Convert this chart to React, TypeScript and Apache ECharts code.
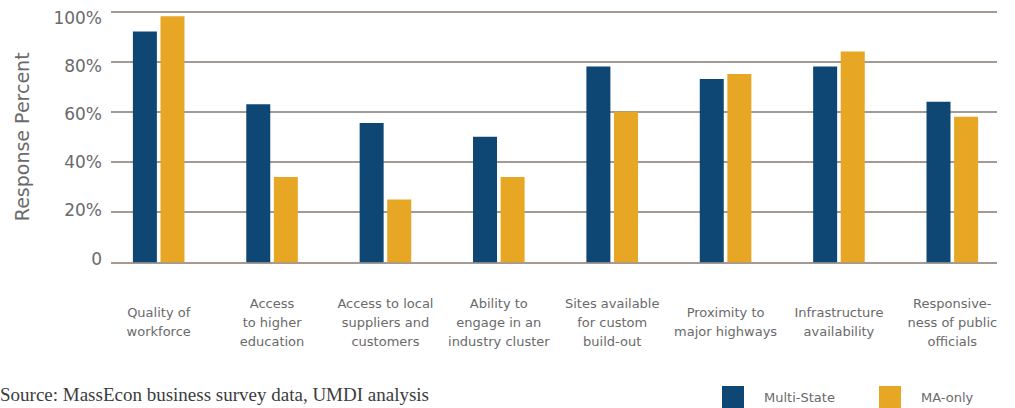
import React, { useEffect, useRef } from "react";
import * as echarts from "echarts";

const categories = [
  "Quality of\nworkforce",
  "Access\nto higher\neducation",
  "Access to local\nsuppliers and\ncustomers",
  "Ability to\nengage in an\nindustry cluster",
  "Sites available\nfor custom\nbuild-out",
  "Proximity to\nmajor highways",
  "Infrastructure\navailability",
  "Responsive-\nness of public\nofficials",
];
const multiState = [92, 63, 55.5, 50, 78, 73, 78, 64];
const maOnly = [98, 34, 25, 34, 60, 75, 84, 58];
const yTicks = [0, 20, 40, 60, 80, 100];

const BLUE = "#0F4774";
const GOLD = "#E7A623";
const TEXT = "#6a6a6a";
const FONT = "DejaVu Sans";

export default function App() {
  const ref = useRef<HTMLDivElement>(null);
  useEffect(() => {
    if (!ref.current) return;
    const chart = echarts.init(ref.current, undefined, { renderer: "svg" });
    const yMax = yTicks[yTicks.length - 1];
    const yInterval = yTicks[1] - yTicks[0];
    chart.setOption({
      animation: false,
      grid: [
        { left: 102, right: 6, top: 11.3, bottom: 145.7 },
        { left: 111, right: 18, top: 11.3, bottom: 145.7 },
        { left: 111, right: 18, top: 17.5, bottom: 149.5 },
      ],
      xAxis: [
        {
          type: "category",
          gridIndex: 0,
          data: categories,
          axisLine: { show: false },
          axisTick: { show: false },
          axisLabel: {
            interval: 0,
            margin: 60,
            verticalAlign: "middle",
            align: "center",
            color: TEXT,
            fontFamily: FONT,
            fontSize: 13,
            lineHeight: 19,
          },
        },
        { type: "value", gridIndex: 1, show: false, min: 0, max: 1 },
        { type: "value", gridIndex: 2, show: false, min: 0, max: 1 },
      ],
      yAxis: [
        {
          type: "value",
          gridIndex: 0,
          min: 0,
          max: yMax,
          interval: yInterval,
          axisLine: { show: false },
          axisTick: { show: false },
          axisLabel: { show: false },
          splitLine: { show: false },
        },
        {
          type: "value",
          gridIndex: 1,
          min: 0,
          max: yMax,
          interval: yInterval,
          axisLine: { show: false },
          axisTick: { show: false },
          axisLabel: { show: false },
          splitLine: { show: true, lineStyle: { color: "#A39A93", width: 2 } },
          name: "Response Percent",
          nameLocation: "middle",
          nameGap: 80,
          nameTextStyle: { color: TEXT, fontFamily: FONT, fontSize: 19 },
        },
        {
          type: "value",
          gridIndex: 2,
          min: 0,
          max: yMax,
          interval: yInterval,
          axisLine: { show: false },
          axisTick: { show: false },
          splitLine: { show: false },
          axisLabel: {
            margin: 9,
            color: TEXT,
            fontFamily: FONT,
            fontSize: 17,
            formatter: (v: number) => (v === 0 ? "0" : v + "%"),
          },
        },
      ],
      legend: [
        {
          data: ["Multi-State"],
          left: 722,
          top: 386,
          padding: 0,
          itemWidth: 22,
          itemHeight: 22,
          icon: "rect",
          selectedMode: false,
          textStyle: { color: TEXT, fontFamily: FONT, fontSize: 13, padding: [0, 0, 0, 15] },
        },
        {
          data: ["MA-only"],
          left: 879,
          top: 386,
          padding: 0,
          itemWidth: 22,
          itemHeight: 22,
          icon: "rect",
          selectedMode: false,
          textStyle: { color: TEXT, fontFamily: FONT, fontSize: 13, padding: [0, 0, 0, 15] },
        },
      ],
      graphic: [
        {
          type: "text",
          left: 0,
          top: 385,
          style: {
            text: "Source: MassEcon business survey data, UMDI analysis",
            fill: "#3c3c3c",
            font: '19px "Liberation Serif", serif',
          },
        },
      ],
      series: [
        {
          name: "Multi-State",
          type: "bar",
          xAxisIndex: 0,
          yAxisIndex: 0,
          data: multiState,
          barWidth: 24,
          barGap: "15%",
          itemStyle: { color: BLUE },
          z: 3,
        },
        {
          name: "MA-only",
          type: "bar",
          xAxisIndex: 0,
          yAxisIndex: 0,
          data: maOnly,
          barWidth: 24,
          barGap: "15%",
          itemStyle: { color: GOLD },
          z: 3,
        },
      ],
    });
    return () => chart.dispose();
  }, []);
  return (
    <div
      ref={ref}
      style={{ position: "absolute", left: 0, top: 0, width: 1015, height: 408, background: "#fff" }}
    />
  );
}
